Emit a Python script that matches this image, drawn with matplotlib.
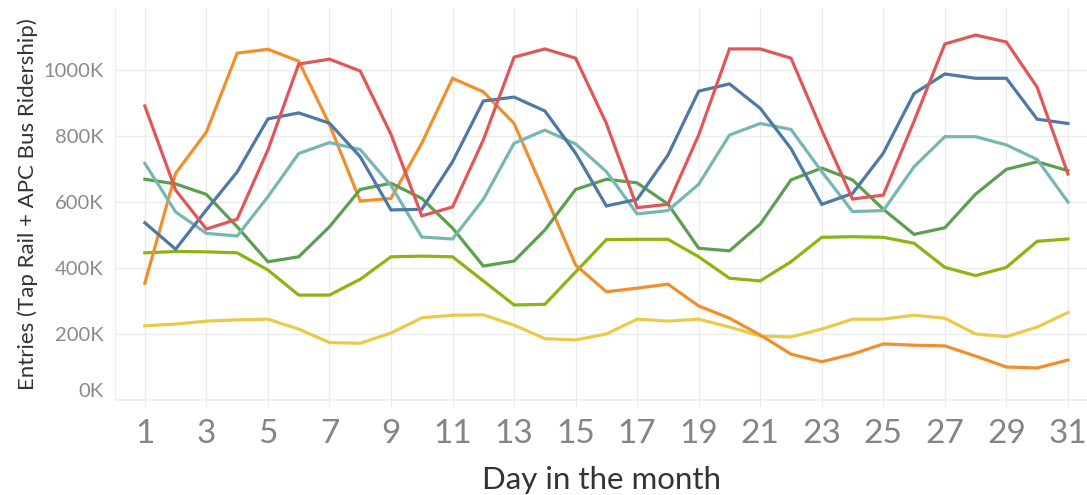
import matplotlib
matplotlib.use("Agg")
import matplotlib.pyplot as plt
from matplotlib.ticker import FuncFormatter

plt.rcParams["font.family"] = ["Lato", "DejaVu Sans"]

days = list(range(1, 32))

# ridership in thousands
red = [891, 636, 518, 548, 758, 1018, 1033, 997, 805, 558, 585, 788, 1039, 1064, 1036, 838,
       583, 593, 803, 1064, 1064, 1036, 818, 609, 621, 845, 1079, 1106, 1085, 948, 685]
blue = [537, 457, 576, 691, 852, 870, 839, 737, 576, 578, 722, 906, 918, 876, 748, 588,
        608, 742, 936, 958, 884, 762, 593, 626, 748, 929, 988, 975, 975, 851, 838]
teal = [717, 570, 505, 497, 616, 747, 780, 759, 650, 494, 488, 608, 778, 818, 776, 692,
        564, 574, 654, 803, 838, 820, 692, 571, 574, 707, 798, 798, 773, 729, 600]
green = [669, 655, 623, 525, 419, 434, 525, 638, 657, 611, 521, 406, 421, 515, 638, 669,
         658, 594, 460, 452, 533, 667, 703, 667, 578, 502, 522, 624, 699, 722, 695]
lime = [446, 450, 449, 446, 394, 318, 318, 366, 434, 436, 434, 361, 288, 290, 388, 486,
        487, 487, 434, 369, 361, 419, 493, 495, 493, 475, 402, 377, 402, 481, 488]
yellow = [225, 230, 239, 243, 245, 215, 174, 172, 203, 249, 257, 258, 227, 186, 182, 200,
          245, 239, 245, 221, 194, 191, 215, 245, 245, 257, 248, 200, 192, 221, 265]
orange = [354, 687, 812, 1051, 1063, 1027, 835, 603, 611, 778, 975, 934, 838, 625, 409, 328,
          339, 351, 285, 248, 197, 139, 116, 139, 170, 166, 164, 133, 100, 97, 121]

series = [
    (yellow, "#edc948"),
    (lime, "#8bb511"),
    (orange, "#f28e2b"),
    (green, "#59a14f"),
    (teal, "#76b7b2"),
    (blue, "#4e79a7"),
    (red, "#e15759"),
]

fig = plt.figure(figsize=(10.87, 4.95), dpi=100)
ax = fig.add_axes([115 / 1087, 95 / 495, 972 / 1087, 392 / 495])

for vals, col in series:
    ax.plot(days, [v * 1000 for v in vals], color=col, lw=2.3, solid_joinstyle="miter", zorder=3)

ax.set_xlim(0.03, 31.62)
ax.set_ylim(0, 1188000)
ax.set_xticks(range(1, 32, 2))
ax.set_yticks(range(0, 1000001, 200000))
ax.yaxis.set_major_formatter(FuncFormatter(lambda v, p: f"{int(v / 1000)}K"))

ax.grid(True, color="#ececec", lw=1)
ax.set_axisbelow(True)
for s in ["top", "right", "bottom"]:
    ax.spines[s].set_visible(False)
ax.spines["left"].set_color("#ececec")
ax.axhline(0, color="#ececec", lw=1.2, zorder=1, clip_on=False)

ax.tick_params(axis="x", length=5, color="#ececec", labelsize=24, labelcolor="#858585", pad=9)
ax.tick_params(axis="y", length=0, labelsize=14.5, labelcolor="#8a8a8a", pad=8)
# first y label sits inside the pane like in Tableau
ax.get_yticklabels()[0].set_verticalalignment("bottom")

ax.set_ylabel("Entries (Tap Rail + APC Bus Ridership)", fontsize=16, color="#333333", labelpad=4)
ax.set_xlabel("Day in the month", fontsize=22.5, color="#333333", labelpad=12)

fig.savefig("out.png", dpi=100)
